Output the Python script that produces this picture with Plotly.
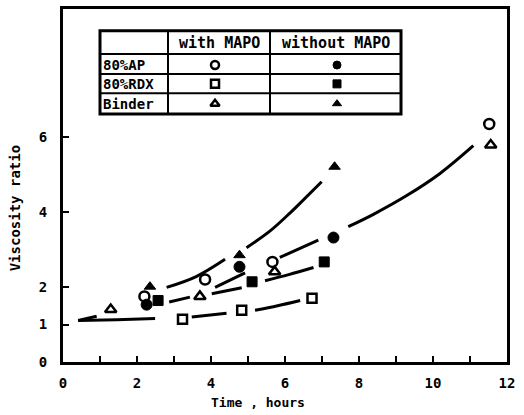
import plotly.graph_objects as go

# ---------------- data ----------------
ap_with_x = [2.20, 3.84, 5.66, 11.52]
ap_with_y = [1.75, 2.20, 2.67, 6.35]
ap_without_x = [2.26, 4.77, 7.31]
ap_without_y = [1.53, 2.54, 3.32]
rdx_with_x = [3.23, 4.83, 6.73]
rdx_with_y = [1.14, 1.38, 1.70]
rdx_without_x = [2.57, 5.11, 7.06]
rdx_without_y = [1.64, 2.14, 2.67]
binder_with_x = [1.29, 3.70, 5.72, 11.56]
binder_with_y = [1.40, 1.75, 2.41, 5.79]
binder_without_x = [2.35, 4.77, 7.34]
binder_without_y = [2.01, 2.85, 5.21]

# fitted curves (drawn broken as in the original), None = gap
curve_a_x = [0.41, 0.91, None, 0.41, 1.45, 2.49, None, 3.48, 4.42, None, 5.19, 5.80, 6.41]
curve_a_y = [1.11, 1.22, None, 1.11, 1.13, 1.16, None, 1.20, 1.30, None, 1.38, 1.50, 1.64]
curve_b_x = [2.87, 3.43, None, 4.02, 4.83, None, 5.46, 6.10, 6.77]
curve_b_y = [1.60, 1.73, None, 1.82, 1.98, None, 2.17, 2.33, 2.52]
curve_c_x = [4.11, 4.92, None, 5.86, 6.90, None, 7.71, 8.39, 9.29, 10.19, 11.09]
curve_c_y = [1.99, 2.38, None, 2.79, 3.25, None, 3.61, 3.94, 4.44, 5.03, 5.77]
curve_d_x = [2.80, 3.60, 4.38, None, 4.96, 5.59, 6.14, 6.41, 6.99]
curve_d_y = [1.99, 2.28, 2.74, None, 3.05, 3.49, 3.98, 4.24, 4.81]

x_ticks = list(range(0, 13))
x_ticktext = [str(v) if v % 2 == 0 else "" for v in x_ticks]
y_ticks = [0, 1, 2, 4, 6]
y_ticktext = ["0", "1", "2", "4", "6"]

row_labels = ["80%AP", "80%RDX", "Binder"]
col_labels = ["with MAPO", "without MAPO"]

# ---------------- layout helpers ----------------
W, H = 524, 415
L, R, T, B = 63, 507, 6, 362
FONT = "DejaVu Sans Mono"


def px(x):
    return (x - L) / (R - L)


def py(y):
    return (B - y) / (B - T)


fig = go.Figure()

line_style = dict(color="black", width=3, shape="spline", smoothing=1.0)
for cx, cy in [(curve_a_x, curve_a_y), (curve_b_x, curve_b_y),
               (curve_c_x, curve_c_y), (curve_d_x, curve_d_y)]:
    fig.add_trace(go.Scatter(x=cx, y=cy, mode="lines", line=line_style,
                             connectgaps=False, hoverinfo="skip"))

open_m = dict(color="white", line=dict(color="black", width=2.5))
fill_m = dict(color="black", line=dict(color="black", width=1))
series = [
    (ap_with_x, ap_with_y, "circle", 10, open_m),
    (ap_without_x, ap_without_y, "circle", 11, fill_m),
    (rdx_with_x, rdx_with_y, "square", 9, open_m),
    (rdx_without_x, rdx_without_y, "square", 10, fill_m),
    (binder_with_x, binder_with_y, "triangle-up", 10, open_m),
    (binder_without_x, binder_without_y, "triangle-up", 10, fill_m),
]
for sx, sy, sym, size, m in series:
    fig.add_trace(go.Scatter(x=sx, y=sy, mode="markers",
                             marker=dict(symbol=sym, size=size, **m),
                             cliponaxis=False))

# legend table symbols on an overlay axis (0..1 = plot area)
col_x = [px(215), px(337)]
row_y = [py(62.5), py(81.5), py(101.5)]
sym_rows = ["circle", "square", "triangle-up"]
for i, sym in enumerate(sym_rows):
    for j, m in enumerate([open_m, fill_m]):
        fig.add_trace(go.Scatter(x=[col_x[j]], y=[row_y[i]], mode="markers",
                                 xaxis="x2", yaxis="y2",
                                 marker=dict(symbol=sym, size=8, **m),
                                 hoverinfo="skip"))

shapes = []
tx0, tx1, tc1, tc2 = 100, 401, 168, 270
ty = [28, 51.5, 71.5, 91, 112]
shapes.append(dict(type="rect", xref="paper", yref="paper",
                   x0=px(tx0), x1=px(tx1), y0=py(ty[0]), y1=py(ty[-1]),
                   line=dict(color="black", width=3), fillcolor="white",
                   layer="below"))
for yy in ty[1:-1]:
    shapes.append(dict(type="line", xref="paper", yref="paper",
                       x0=px(tx0), x1=px(tx1), y0=py(yy), y1=py(yy),
                       line=dict(color="black", width=2)))
for xx in [tc1, tc2]:
    shapes.append(dict(type="line", xref="paper", yref="paper",
                       x0=px(xx), x1=px(xx), y0=py(ty[0]), y1=py(ty[-1]),
                       line=dict(color="black", width=2)))

annotations = []
hdr_x = [px(219), px(336)]
for j, lab in enumerate(col_labels):
    annotations.append(dict(x=hdr_x[j], y=py(40), xref="paper", yref="paper",
                            text=lab, showarrow=False,
                            font=dict(family=FONT, size=15, color="black", weight="bold"),
                            xanchor="center", yanchor="middle"))
for i, lab in enumerate(row_labels):
    annotations.append(dict(x=px(101), y=row_y[i], xref="paper", yref="paper",
                            text=lab, showarrow=False,
                            font=dict(family=FONT, size=14, color="black", weight="bold"),
                            xanchor="left", yanchor="middle"))
annotations.append(dict(x=px(258), y=py(403), xref="paper", yref="paper",
                        text="Time , hours", showarrow=False,
                        font=dict(family=FONT, size=13, color="black", weight="bold"),
                        xanchor="center", yanchor="middle"))
annotations.append(dict(x=px(15), y=py(207), xref="paper", yref="paper",
                        text="Viscosity ratio", showarrow=False, textangle=-90,
                        font=dict(family=FONT, size=14, color="black", weight="bold"),
                        xanchor="center", yanchor="middle"))

tick_font = dict(family=FONT, size=14, color="black", weight="bold")
fig.update_layout(
    width=W, height=H,
    margin=dict(l=L, r=W - R, t=T, b=H - B),
    paper_bgcolor="white", plot_bgcolor="white",
    showlegend=False,
    xaxis=dict(range=[0, 12], tickvals=x_ticks, ticktext=x_ticktext,
               ticks="inside", ticklen=6, tickwidth=2, tickcolor="black",
               showline=True, linewidth=3, linecolor="black", mirror=True,
               showgrid=False, zeroline=False, tickfont=tick_font,
               ticklabelstandoff=6),
    yaxis=dict(range=[0, (B - T) / 37.8], tickvals=y_ticks, ticktext=y_ticktext,
               ticks="inside", ticklen=6, tickwidth=2, tickcolor="black",
               showline=True, linewidth=3, linecolor="black", mirror=True,
               showgrid=False, zeroline=False, tickfont=tick_font,
               ticklabelstandoff=10),
    xaxis2=dict(range=[0, 1], overlaying="x", visible=False),
    yaxis2=dict(range=[0, 1], overlaying="y", visible=False),
    shapes=shapes,
    annotations=annotations,
)

fig.write_html("out.html")
